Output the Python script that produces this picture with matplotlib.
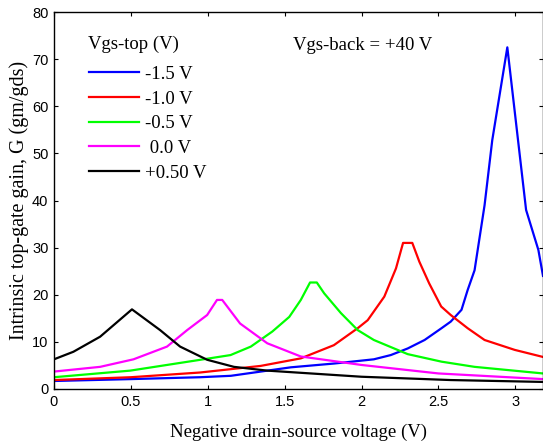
import matplotlib
matplotlib.use("Agg")
import matplotlib.pyplot as plt

# Data
x_blue = [0.0, 0.5, 0.95, 1.15, 1.54, 1.82, 2.08, 2.19, 2.30, 2.41, 2.52, 2.58, 2.65, 2.69, 2.735, 2.80, 2.85, 2.948, 3.03, 3.07, 3.15, 3.18]
y_blue = [1.7, 2.1, 2.5, 2.8, 4.6, 5.4, 6.3, 7.2, 8.6, 10.4, 12.9, 14.3, 16.8, 21.0, 25.2, 39.0, 52.8, 72.5, 49.3, 38.0, 29.5, 24.0]

x_red = [0.0, 0.5, 0.95, 1.344, 1.605, 1.82, 1.975, 2.04, 2.148, 2.224, 2.27, 2.33, 2.376, 2.44, 2.518, 2.58, 2.69, 2.80, 2.996, 3.18]
y_red = [1.9, 2.5, 3.5, 4.9, 6.5, 9.3, 12.9, 14.6, 19.6, 25.6, 31.0, 31.0, 27.0, 22.4, 17.5, 15.7, 12.9, 10.4, 8.3, 6.8]

x_green = [0.0, 0.496, 0.952, 1.148, 1.28, 1.42, 1.53, 1.605, 1.665, 1.709, 1.757, 1.866, 1.975, 2.08, 2.30, 2.52, 2.735, 3.18]
y_green = [2.5, 3.9, 6.2, 7.2, 9.0, 12.2, 15.3, 18.9, 22.6, 22.6, 20.3, 16.1, 12.5, 10.4, 7.4, 5.8, 4.7, 3.3]

x_mag = [0.0, 0.30, 0.517, 0.735, 0.866, 0.996, 1.06, 1.094, 1.21, 1.387, 1.605, 2.0, 2.5, 3.18]
y_mag = [3.7, 4.7, 6.3, 9.0, 12.5, 15.7, 18.9, 18.9, 13.9, 9.7, 6.9, 5.1, 3.3, 2.1]

x_black = [0.0, 0.126, 0.30, 0.507, 0.69, 0.82, 0.996, 1.17, 1.387, 2.0, 2.58, 3.18]
y_black = [6.3, 7.9, 11.1, 16.9, 12.5, 9.0, 6.2, 4.7, 3.9, 2.6, 1.9, 1.5]

labels = ["-1.5 V", "-1.0 V", "-0.5 V", " 0.0 V", "+0.50 V"]
colors = ["#0000ff", "#ff0000", "#00ff00", "#ff00ff", "#000000"]
series = [(x_blue, y_blue), (x_red, y_red), (x_green, y_green), (x_mag, y_mag), (x_black, y_black)]

xticks = [0, 0.5, 1, 1.5, 2, 2.5, 3]
xticklabels = ["0", "0.5", "1", "1.5", "2", "2.5", "3"]
yticks = [0, 10, 20, 30, 40, 50, 60, 70, 80]

fig = plt.figure(figsize=(5.43, 4.45), dpi=100)
ax = fig.add_axes([54/543, 1 - 389/445, 1 - 54/543, 377/445])

for (xs, ys), c, lab in zip(series, colors, labels):
    ax.plot(xs, ys, color=c, lw=1.6, label=lab)

ax.set_xlim(0, 3.18)
ax.set_ylim(0, 80)
ax.set_xticks(xticks)
ax.set_xticklabels(xticklabels)
ax.set_yticks(yticks)
ax.tick_params(direction="in", top=True, right=True, length=3, width=0.8,
               labelsize=10.5, pad=4)
for lab in ax.get_xticklabels() + ax.get_yticklabels():
    lab.set_fontfamily("Liberation Sans")
for s in ax.spines.values():
    s.set_linewidth(1.0)

serif = "Liberation Serif"
ax.set_xlabel("Negative drain-source voltage (V)", fontfamily=serif, fontsize=13.5, labelpad=11)
ax.set_ylabel("Intrinsic top-gate gain, G (gm/gds)", fontfamily=serif, fontsize=14.5, labelpad=2)

ax.text(0.0695, 0.915, "Vgs-top (V)", transform=ax.transAxes, fontfamily=serif,
        fontsize=13.5, ha="left", va="center")
leg = ax.legend(loc="upper left", bbox_to_anchor=(0.0716, 0.857), frameon=False,
                prop={"family": serif, "size": 13.5},
                handlelength=2.67, handletextpad=0.32, labelspacing=0.40,
                borderaxespad=0, borderpad=0)

ax.text(0.489, 0.912, "Vgs-back = +40 V", transform=ax.transAxes, fontfamily=serif, fontsize=13.5,
        ha="left", va="center")

fig.savefig("out.png", dpi=100)
